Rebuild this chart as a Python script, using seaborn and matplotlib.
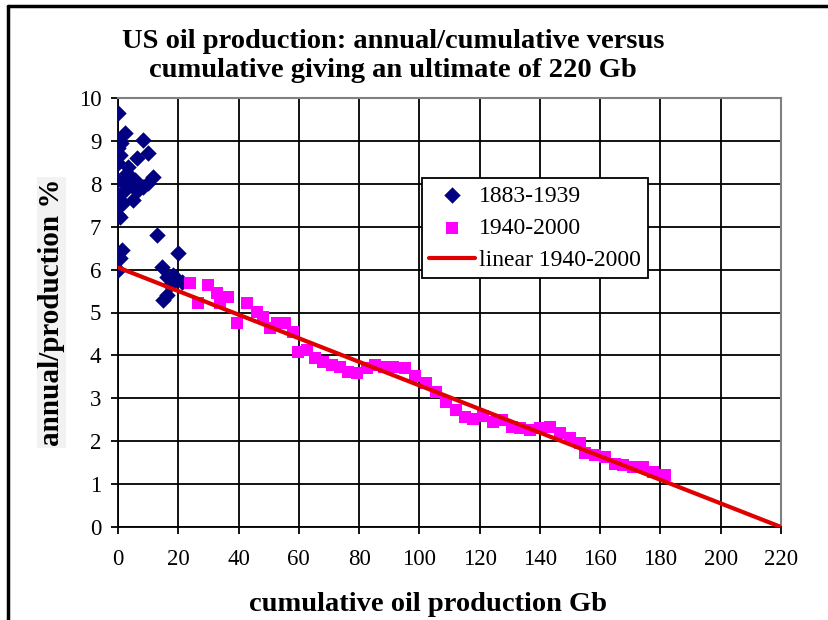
import numpy as np
import pandas as pd
import matplotlib
matplotlib.use("Agg")
import matplotlib.pyplot as plt
from matplotlib.lines import Line2D
import seaborn as sns

# 1883-1939: cumulative production (Gb) vs annual/cumulative (%)
early_cum = [0.1, 2.3, 0.1, 8.4, 0.0, 0.7, 6.2, 10.1, 3.4, 0.1, 11.7, 10.1,
             0.1, 5.6, 2.3, 6.7, 0.1, 5.1, 0.1, 1.8, 0.1, 8.4, 0.7, 12.8,
             1.2, 0.7, 0.1, 20.0, 14.5, 16.2, 18.3, 19.5, 17.3, 16.2, 15.0,
             21.1, 1.0, 3.0, 4.5, 1.5]
early_ratio = [9.64, 9.18, 9.02, 9.02, 8.83, 8.67, 8.59, 8.71, 8.40, 8.48,
               8.17, 8.01, 8.09, 8.09, 7.86, 7.86, 7.74, 7.62, 7.47, 7.55,
               7.27, 7.93, 7.23, 6.81, 6.46, 6.26, 5.99, 6.38, 6.07, 5.83,
               5.87, 5.76, 5.64, 5.41, 5.29, 5.72, 8.95, 8.25, 7.95, 8.05]

# 1940-2000
late_cum = [23.9, 26.6, 30.0, 32.7, 33.8, 36.6, 39.4, 42.9, 46.0, 48.2, 50.4,
            52.6, 55.4, 58.2, 59.8, 62.6, 65.4, 68.1, 70.9, 73.7, 76.4, 79.2,
            82.5, 85.3, 88.2, 91.3, 95.2, 98.5, 102.2, 105.5, 109.0, 112.1,
            115.1, 117.9, 121.2, 124.5, 127.3, 130.6, 133.4, 136.7, 140.0,
            143.3, 146.6, 149.9, 153.3, 154.9, 158.3, 161.6, 164.9, 167.7,
            171.0, 174.3, 177.6, 181.5]
late_ratio = [5.68, 5.21, 5.64, 5.45, 5.21, 5.37, 4.75, 5.21, 5.02, 4.89, 4.63,
              4.75, 4.75, 4.55, 4.09, 4.13, 3.93, 3.85, 3.78, 3.74, 3.62, 3.58,
              3.70, 3.78, 3.74, 3.72, 3.70, 3.52, 3.36, 3.15, 2.92, 2.73,
              2.56, 2.51, 2.59, 2.45, 2.49, 2.34, 2.30, 2.26, 2.30,
              2.32, 2.18, 2.07, 1.95, 1.72, 1.68, 1.64, 1.48, 1.45,
              1.41, 1.41, 1.29, 1.21]

# linear fit 1940-2000, reaching zero at the 220 Gb ultimate
fit_cum = [0, 220]
fit_ratio = [6.05, 0.0]

x_ticks = list(range(0, 221, 20))
y_ticks = list(range(0, 11))

early = pd.DataFrame({"cum": early_cum, "ratio": early_ratio})
late = pd.DataFrame({"cum": late_cum, "ratio": late_ratio})
fit = pd.DataFrame({"cum": fit_cum, "ratio": fit_ratio})

sns.set_style("white")
plt.rcParams["font.family"] = ["Liberation Serif", "DejaVu Serif"]
plt.rcParams["text.color"] = "black"
plt.rcParams["axes.labelcolor"] = "black"

fig = plt.figure(figsize=(8.29, 6.2), dpi=100)
ax = fig.add_axes([118 / 829, 1 - 527 / 620, 663 / 829, 429 / 620])

sns.scatterplot(data=early, x="cum", y="ratio", marker="D", s=70,
                color="#000080", linewidth=0, label="1883-1939", ax=ax, zorder=3)
sns.scatterplot(data=late, x="cum", y="ratio", marker="s", s=75,
                color="#FF00FF", linewidth=0, label="1940-2000", ax=ax, zorder=3)
sns.lineplot(data=fit, x="cum", y="ratio", color="#E00000", linewidth=3,
             label="linear 1940-2000", ax=ax, zorder=4)

ax.set_xlim(0, 220)
ax.set_ylim(0, 10)
ax.set_xticks(x_ticks)
ax.set_yticks(y_ticks)
ax.grid(True, color="black", linewidth=1.3)
ax.set_axisbelow(True)
ax.tick_params(axis="both", direction="out", length=5, width=1.3,
               colors="black", labelcolor="black", labelsize=16.5,
               left=True, bottom=True)
ax.tick_params(axis="x", pad=11)
ax.tick_params(axis="y", pad=7)
for side in ["left", "bottom"]:
    ax.spines[side].set_color("black")
    ax.spines[side].set_linewidth(1.3)
for side in ["top", "right"]:
    ax.spines[side].set_visible(True)
    ax.spines[side].set_color("#808080")
    ax.spines[side].set_linewidth(1.5)

ax.set_xlabel("cumulative oil production Gb", fontsize=20.5, fontweight="bold")
ax.xaxis.set_label_coords(0.4676, -0.152)
ax.set_ylabel("annual/production %", fontsize=21, fontweight="bold",
              bbox=dict(facecolor="#f2f2f2", edgecolor="none", pad=1))
ax.yaxis.set_label_coords(-0.08, 0.5)
fig.text(393 / 829, 1 - 56 / 620,
         "US oil production: annual/cumulative versus\n"
         "cumulative giving an ultimate of 220 Gb",
         ha="center", va="center", fontsize=20.5, fontweight="bold",
         linespacing=1.2)

leg = ax.legend(loc="upper left", bbox_to_anchor=(0.4585, 0.8135),
                borderaxespad=0, fontsize=17, frameon=True, fancybox=False,
                edgecolor="black", handlelength=1.95, handletextpad=0.15,
                labelspacing=0.45, borderpad=0.3, framealpha=1)
leg.get_frame().set_linewidth(1.3)

# outer chart-area frame (only left and top edges fall inside the crop)
fig.add_artist(Line2D([8 / 829, 8 / 829], [0, 1 - 6 / 620],
                      transform=fig.transFigure, color="black", linewidth=2.5))
fig.add_artist(Line2D([8 / 829, 1], [1 - 6 / 620, 1 - 6 / 620],
                      transform=fig.transFigure, color="black", linewidth=2.5))

fig.savefig("out.png", dpi=100)
